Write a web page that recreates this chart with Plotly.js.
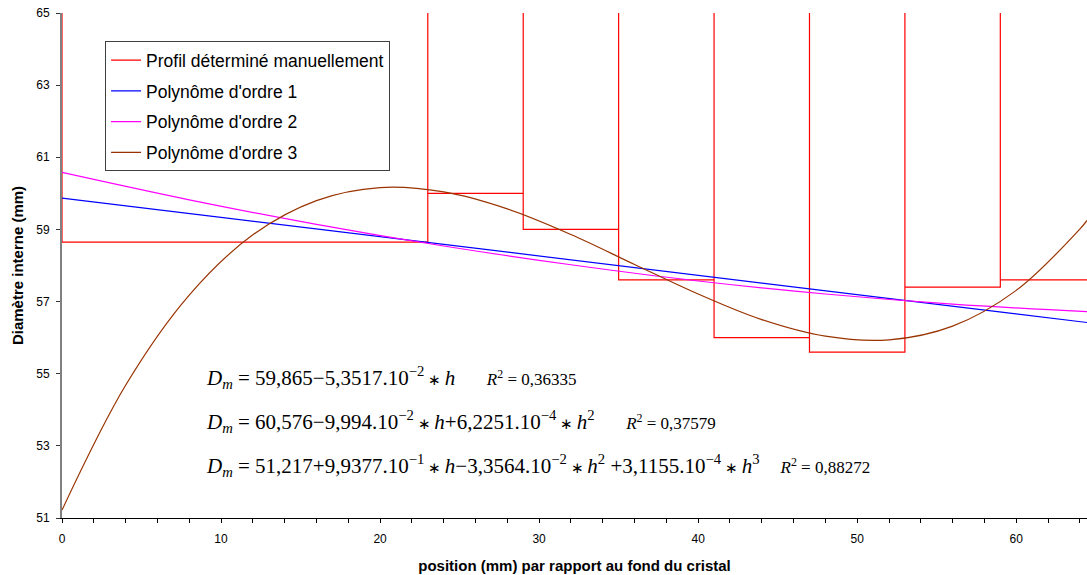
<!DOCTYPE html>
<html>
<head>
<meta charset="utf-8">
<script src="https://cdn.plot.ly/plotly-3.0.1.min.js"></script>
<style>
html,body{margin:0;padding:0;background:#fff;}
#chart{width:1087px;height:575px;}
</style>
</head>
<body>
<div id="chart"></div>
<script>
// ---- Data ----
// Manually determined profile: steps (start, end, level in mm)
const stepStart = [0, 23, 29, 35, 41, 47, 53, 59];
const stepEnd   = [23, 29, 35, 41, 47, 53, 59, 66];
const stepLevel = [58.65, 60.0, 59.0, 57.6, 56.0, 55.6, 57.4, 57.6];
const profileTop = 65; // vertical separators run up to the top of the scale

// Polynomial fits
const poly1X = [0, 64.45];
const poly1Y = [59.87, 56.42];

const poly2X = [0, 8, 16, 24, 32, 40, 48, 56, 64.45];
const poly2Y = [60.58, 59.82, 59.14, 58.54, 58.02, 57.57, 57.21, 56.93, 56.72];

const poly3X = [0, 4, 8, 12, 16, 20, 24, 28, 32, 36, 40, 44, 48, 52, 56, 60, 64, 64.45];
const poly3Y = [51.22, 54.68, 57.18, 58.85, 59.80, 60.16, 60.04, 59.57, 58.86, 58.03,
                57.21, 56.50, 56.04, 55.94, 56.32, 57.31, 59.01, 59.25];

const seriesNames = ["Profil déterminé manuellement", "Polynôme d'ordre 1",
                     "Polynôme d'ordre 2", "Polynôme d'ordre 3"];
const seriesColors = ["#ff0000", "#0000ff", "#ff00ff", "#993300"];

const xTitle = "position (mm) par rapport au fond du cristal";
const yTitle = "Diamètre interne (mm)";

const ast = "<span style=\"font-size:15px\"> ∗ </span>";
const r2 = (v) => "<span style=\"font-size:17px\"><i>R</i><sup>2</sup> = " + v + "</span>";
const equations = [
  "<i>D<sub>m</sub></i> = 59,865−5,3517.10<sup>−2</sup>" + ast + "<i>h</i>      " + r2("0,36335"),
  "<i>D<sub>m</sub></i> = 60,576−9,994.10<sup>−2</sup>" + ast + "<i>h</i>+6,2251.10<sup>−4</sup>" + ast + "<i>h</i><sup>2</sup>      " + r2("0,37579"),
  "<i>D<sub>m</sub></i> = 51,217+9,9377.10<sup>−1</sup>" + ast + "<i>h</i>−3,3564.10<sup>−2</sup>" + ast + "<i>h</i><sup>2</sup> +3,1155.10<sup>−4</sup>" + ast + "<i>h</i><sup>3</sup>    " + r2("0,88272")
];
const eqX = [8.9, 8.9, 8.9];
const eqY = [54.9, 53.68, 52.45];

// ---- Build the stepped profile path ----
const profX = [], profY = [];
for (let i = 0; i < stepStart.length; i++) {
  profX.push(stepStart[i], stepStart[i], stepEnd[i]);
  profY.push(profileTop, stepLevel[i], stepLevel[i]);
  if (i < stepStart.length - 1) { profX.push(stepEnd[i]); profY.push(profileTop); }
}

const xRange = [0, 64.45];
const yRange = [51, 65];

const traces = [
  {x: profX, y: profY, name: seriesNames[0], mode: "lines", legendgroup: "a",
   line: {color: seriesColors[0], width: 1.2}},
  {x: poly1X, y: poly1Y, name: seriesNames[1], mode: "lines", legendgroup: "b",
   line: {color: seriesColors[1], width: 1.2}},
  {x: poly2X, y: poly2Y, name: seriesNames[2], mode: "lines", legendgroup: "c",
   line: {color: seriesColors[2], width: 1.2, shape: "spline"}},
  {x: poly3X, y: poly3Y, name: seriesNames[3], mode: "lines", legendgroup: "d",
   line: {color: seriesColors[3], width: 1.2, shape: "spline"}}
];

const sans = "Liberation Sans, Arial, sans-serif";
const serif = "Liberation Serif, Times New Roman, serif";

const layout = {
  width: 1087, height: 575,
  margin: {l: 62, r: 0, t: 13, b: 57, pad: 0},
  paper_bgcolor: "#ffffff", plot_bgcolor: "#ffffff",
  showlegend: true,
  legend: {
    x: 0.042, y: 0.944, xanchor: "left", yanchor: "top",
    bordercolor: "#404040", borderwidth: 1, bgcolor: "#ffffff",
    font: {family: sans, size: 17.5, color: "#000"},
    traceorder: "grouped", tracegroupgap: 5, itemwidth: 30
  },
  xaxis: {
    range: xRange, tickmode: "linear", tick0: 0, dtick: 10,
    ticks: "outside", ticklen: 4, tickcolor: "#000", tickwidth: 1,
    minor: {tickmode: "linear", tick0: 0, dtick: 2, ticks: "outside", ticklen: 4, tickcolor: "#000"},
    showline: true, linecolor: "#000", linewidth: 1,
    showgrid: false, zeroline: false,
    tickfont: {family: sans, size: 12, color: "#000"},
    ticklabelstandoff: 6,
    title: {text: xTitle, font: {family: sans, size: 15, color: "#000", weight: "bold"}, standoff: 15},
    automargin: false
  },
  xaxis2: {
    range: xRange, overlaying: "x", anchor: "y", side: "bottom",
    tickmode: "linear", tick0: 0, dtick: 2,
    ticks: "inside", ticklen: 3, tickcolor: "#000",
    showticklabels: false, showline: false, showgrid: false, zeroline: false
  },
  yaxis: {
    range: yRange, tickmode: "linear", tick0: 51, dtick: 2,
    ticks: "outside", ticklen: 4, tickcolor: "#333", tickwidth: 1,
    showline: true, linecolor: "#808080", linewidth: 2,
    showgrid: false, zeroline: false,
    tickfont: {family: sans, size: 12, color: "#000"},
    ticklabelstandoff: 4,
    title: {text: yTitle, font: {family: sans, size: 15, color: "#000", weight: "bold"}, standoff: 9},
    automargin: false
  },
  annotations: equations.map((t, i) => ({
    text: t, x: eqX[i], y: eqY[i], xref: "x", yref: "y",
    xanchor: "left", yanchor: "middle", showarrow: false,
    font: {family: serif, size: 21, color: "#000"}
  }))
};

Plotly.newPlot("chart", traces, layout, {staticPlot: true, displayModeBar: false});
</script>
</body>
</html>
